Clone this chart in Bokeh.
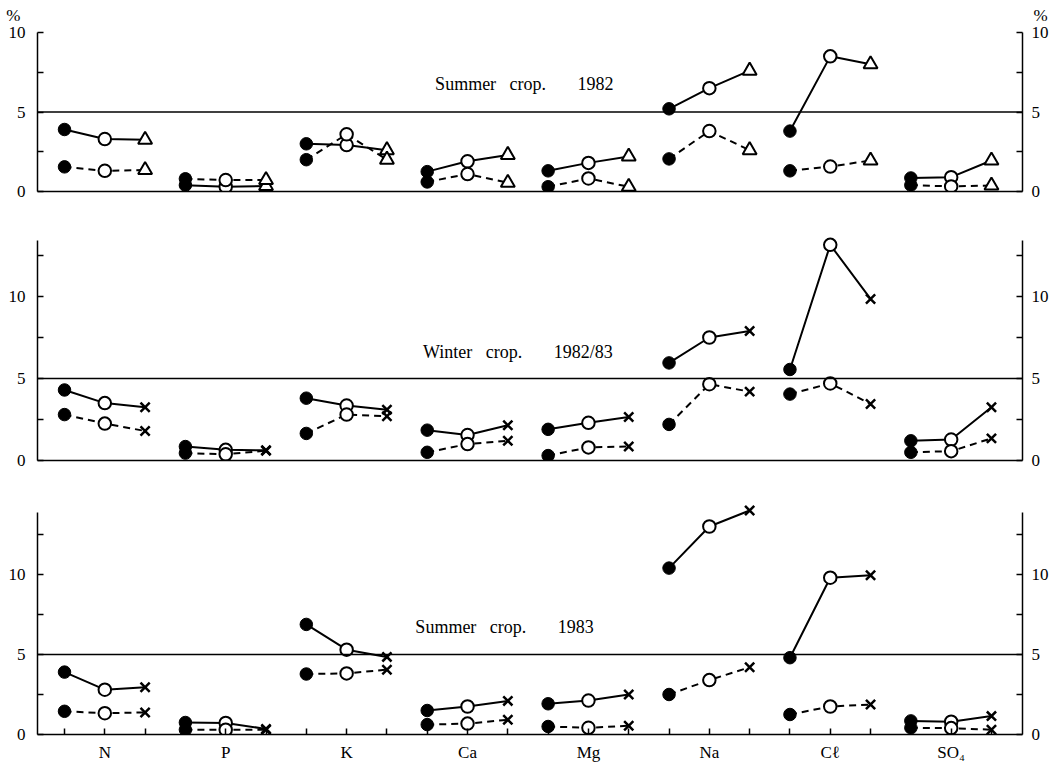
from bokeh.plotting import figure
from bokeh.models import Range1d, LinearAxis, FixedTicker, Span, Label
from bokeh.layouts import column
from bokeh.embed import file_html
from bokeh.resources import INLINE

# ---------------- data ----------------
elements = ["N", "P", "K", "Ca", "Mg", "Na", "Cℓ", "SO₄"]
y_ticks = [0, 5, 10]
y_minor = [2.5, 7.5, 12.5]
reference_level = 5
unit_label = "%"

# Summer crop 1982 (third point = triangle)
summer82_solid = [[3.9, 3.3, 3.25], [0.4, 0.3, 0.35], [3.0, 2.92, 2.6], [1.25, 1.9, 2.3],
                  [1.3, 1.8, 2.2], [5.2, 6.5, 7.6], [3.8, 8.5, 8.0], [0.85, 0.9, 1.95]]
summer82_dashed = [[1.55, 1.3, 1.35], [0.8, 0.72, 0.72], [2.0, 3.6, 2.0], [0.6, 1.1, 0.55],
                   [0.3, 0.82, 0.3], [2.05, 3.8, 2.6], [1.3, 1.57, 1.95], [0.4, 0.32, 0.38]]

# Winter crop 1982/83 (third point = cross)
winter83_solid = [[4.3, 3.5, 3.25], [0.85, 0.65, 0.62], [3.8, 3.35, 3.1], [1.85, 1.55, 2.15],
                  [1.9, 2.3, 2.65], [5.95, 7.5, 7.9], [5.55, 13.15, 9.85], [1.2, 1.28, 3.25]]
winter83_dashed = [[2.8, 2.25, 1.8], [0.45, 0.38, 0.6], [1.65, 2.8, 2.7], [0.5, 1.0, 1.2],
                   [0.3, 0.8, 0.85], [2.2, 4.65, 4.2], [4.05, 4.7, 3.45], [0.5, 0.57, 1.35]]

# Summer crop 1983 (third point = cross)
summer83_solid = [[3.9, 2.8, 2.95], [0.75, 0.72, 0.35], [6.88, 5.3, 4.85], [1.5, 1.75, 2.1],
                  [1.92, 2.12, 2.5], [10.4, 13.0, 14.0], [4.8, 9.8, 9.95], [0.85, 0.8, 1.15]]
summer83_dashed = [[1.45, 1.33, 1.38], [0.3, 0.3, 0.3], [3.78, 3.82, 4.05], [0.62, 0.68, 0.92],
                   [0.5, 0.42, 0.55], [2.5, 3.4, 4.2], [1.25, 1.75, 1.87], [0.42, 0.4, 0.3]]

NB = "\u00a0"
titles = ["Summer" + NB * 3 + "crop." + NB * 7 + "1982",
          "Winter" + NB * 3 + "crop." + NB * 7 + "1982/83",
          "Summer" + NB * 3 + "crop." + NB * 7 + "1983"]

SERIF = "Liberation Serif"
W = 1054
BL, BR = 37, 32               # left / right borders -> frame 37..1022
X0, X1 = -0.67, 23.77


def style_yaxis(ax, bound, standoff):
    ax.ticker = FixedTicker(ticks=y_ticks, minor_ticks=y_minor)
    ax.bounds = (0, bound)
    ax.axis_line_width = 1.5
    ax.axis_line_color = "black"
    ax.major_tick_in = 6
    ax.major_tick_out = 0
    ax.minor_tick_in = 6
    ax.minor_tick_out = 0
    ax.major_tick_line_width = 1.5
    ax.minor_tick_line_width = 1.5
    ax.major_label_text_font = SERIF
    ax.major_label_text_font_size = "17px"
    ax.major_label_text_color = "black"
    ax.major_label_standoff = standoff


def make_panel(solid, dashed, third, title, title_xy, height, b_top, b_bot,
               y_end, y_bound, show_x):
    p = figure(width=W, height=height, output_backend="svg", toolbar_location=None,
               x_range=Range1d(X0, X1), y_range=Range1d(0, y_end),
               min_border_left=BL, min_border_right=BR,
               min_border_top=b_top, min_border_bottom=b_bot,
               background_fill_color="white", border_fill_color="white")
    p.outline_line_color = None
    p.grid.visible = False

    style_yaxis(p.yaxis[0], y_bound, 12)
    right = LinearAxis()
    style_yaxis(right, y_bound, 9)
    p.add_layout(right, "right")

    xa = p.xaxis[0]
    xa.axis_line_width = 1.5
    xa.axis_line_color = "black"
    if show_x:
        ticks = list(range(3 * len(elements)))
        xa.ticker = FixedTicker(ticks=ticks)
        overrides = {t: "" for t in ticks}
        for i, name in enumerate(elements):
            overrides[3 * i + 1] = name
        xa.major_label_overrides = overrides
        xa.major_tick_in = 6
        xa.major_tick_out = 0
        xa.major_tick_line_width = 1.5
        xa.minor_tick_line_color = None
        xa.major_label_text_font = SERIF
        xa.major_label_text_font_size = "17px"
        xa.major_label_text_color = "black"
        xa.major_label_standoff = 8
    else:
        xa.ticker = FixedTicker(ticks=[])
        xa.major_tick_line_color = None
        xa.minor_tick_line_color = None
        xa.major_label_text_font_size = "0px"
        xa.major_label_standoff = 0

    p.add_layout(Span(location=reference_level, dimension="width",
                      line_color="black", line_width=1.3))

    xs_groups = [[3 * i + j for j in range(3)] for i in range(len(elements))]
    p.multi_line(xs_groups, solid, line_color="black", line_width=2)
    p.multi_line(xs_groups, dashed, line_color="black", line_width=2, line_dash="7 5")

    for series in (solid, dashed):
        fx = [g[0] for g in xs_groups]
        fy = [s[0] for s in series]
        ox = [g[1] for g in xs_groups]
        oy = [s[1] for s in series]
        tx = [g[2] for g in xs_groups]
        ty = [s[2] for s in series]
        p.scatter(fx, fy, marker="circle", size=12.5, fill_color="black", line_color="black")
        p.scatter(ox, oy, marker="circle", size=12.5, fill_color="white",
                  line_color="black", line_width=2)
        if third == "triangle":
            p.scatter(tx, ty, marker="triangle", size=14, fill_color="white",
                      line_color="black", line_width=2)
        else:
            p.scatter(tx, ty, marker="x", size=13, line_color="black", line_width=2.5)

    p.add_layout(Label(x=title_xy[0], y=title_xy[1], text=title, text_align="center",
                       text_baseline="middle", text_font=SERIF, text_font_size="18px",
                       text_color="black"))
    return p


def unit_axis(ax, standoff):
    ax.ticker = FixedTicker(ticks=[])
    ax.axis_line_color = None
    ax.major_tick_line_color = None
    ax.minor_tick_line_color = None
    ax.major_label_text_font_size = "0px"
    ax.major_label_standoff = 0
    ax.axis_label = unit_label
    ax.axis_label_orientation = "horizontal"
    ax.axis_label_standoff = standoff
    ax.axis_label_text_font = SERIF
    ax.axis_label_text_font_style = "normal"
    ax.axis_label_text_font_size = "17px"
    ax.axis_label_text_color = "black"


# top strip carrying the "%" unit marks above both vertical axes
p0 = figure(width=W, height=24, output_backend="svg", toolbar_location=None,
            x_range=Range1d(X0, X1), y_range=Range1d(0, 1),
            min_border_left=BL, min_border_right=BR,
            min_border_top=6, min_border_bottom=0,
            background_fill_color="white", border_fill_color="white")
p0.outline_line_color = None
p0.grid.visible = False
p0.xaxis.visible = False
unit_axis(p0.yaxis[0], 17)
r0 = LinearAxis()
unit_axis(r0, 11)
p0.add_layout(r0, "right")

p1 = make_panel(summer82_solid, summer82_dashed, "triangle", titles[0], (11.41, 6.77),
                height=187, b_top=1, b_bot=20, y_end=166 / 15.9, y_bound=10,
                show_x=False)
p2 = make_panel(winter83_solid, winter83_dashed, "x", titles[1], (11.25, 6.6),
                height=269, b_top=19, b_bot=20, y_end=230 / 16.4, y_bound=13.4,
                show_x=False)
p3 = make_panel(summer83_solid, summer83_dashed, "x", titles[2], (10.92, 6.75),
                height=285, b_top=20, b_bot=31, y_end=234 / 16.0, y_bound=13.9,
                show_x=True)

layout = column(p0, p1, p2, p3, spacing=0)
open("out.html", "w").write(file_html(layout, INLINE))
